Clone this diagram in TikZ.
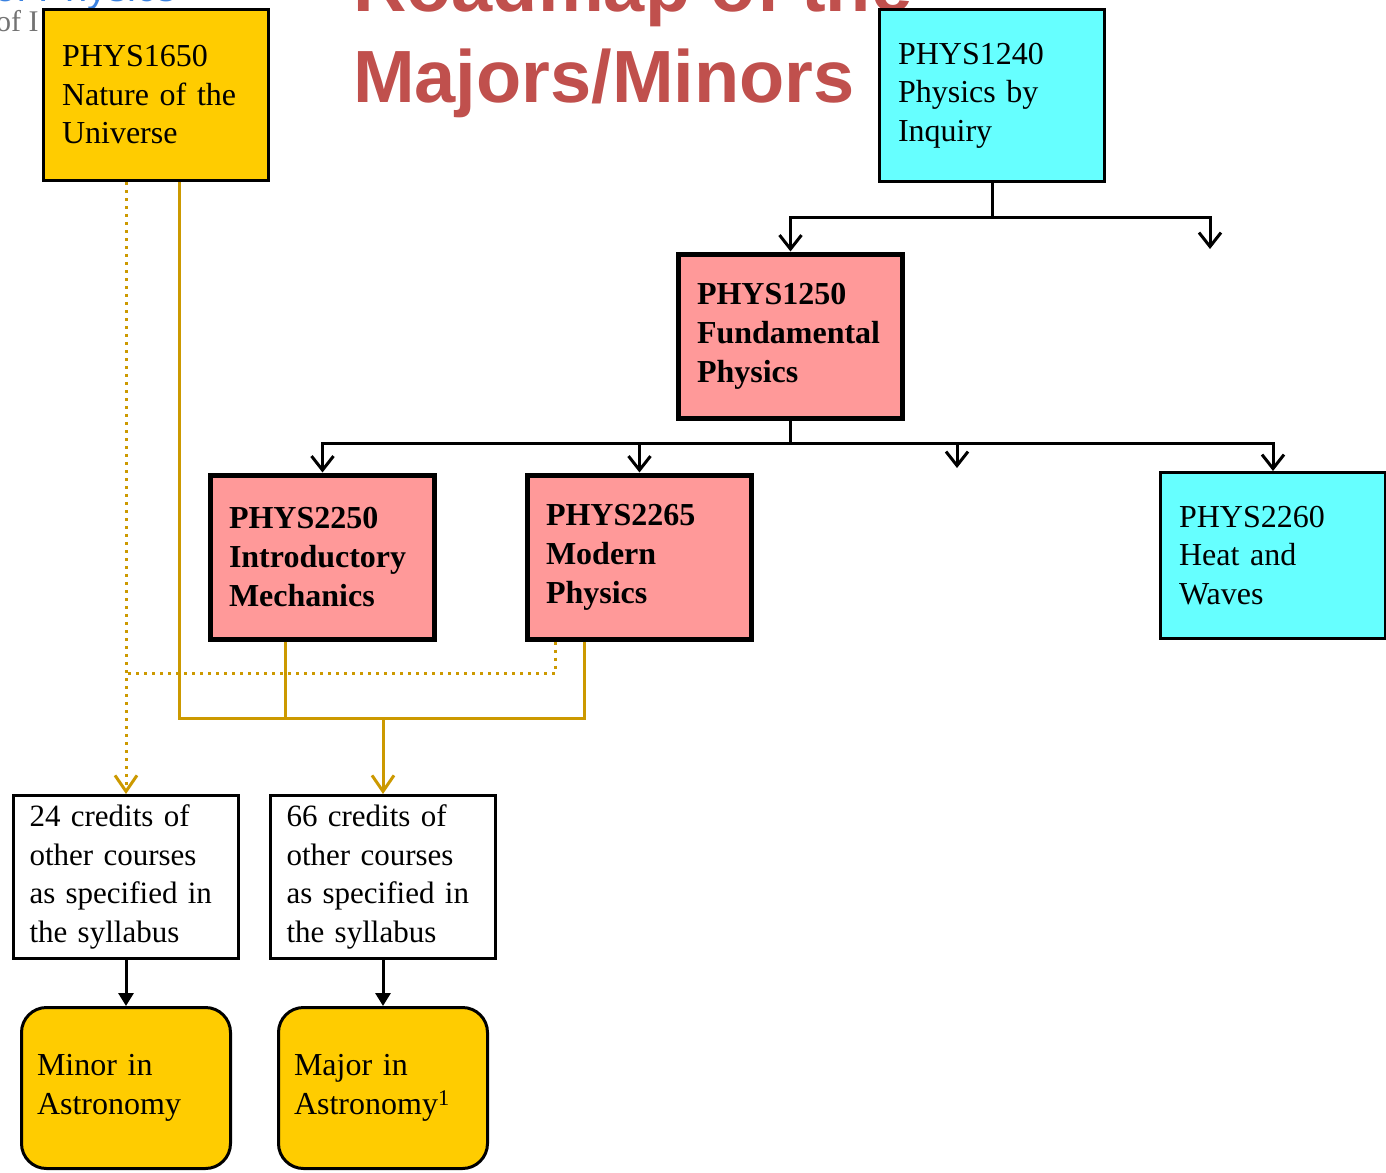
\documentclass[tikz,border=0pt]{standalone}
\usepackage{fontspec}
\setmainfont{Liberation Serif}
\newfontfamily\titlefont{Liberation Sans}
\usepackage{xcolor}
\usetikzlibrary{arrows.meta,positioning}

\definecolor{gold}{HTML}{FFCC00}
\definecolor{aqua}{HTML}{66FFFF}
\definecolor{salmon}{HTML}{FF9999}
\definecolor{titlered}{HTML}{C0504D}
\definecolor{ochre}{HTML}{CC9900}
\definecolor{linkblue}{HTML}{3B82E0}

\begin{document}
\begin{tikzpicture}[
  x=1pt, y=-1pt,
  font=\fontsize{32}{38.5}\selectfont,
  course/.style={rectangle, draw, line width=3pt, minimum width=225pt,
                 minimum height=171pt, inner xsep=18.5pt, text width=188pt,
                 align=left},
  intro/.style={course, fill=gold},
  elective/.style={course, fill=aqua},
  core/.style={course, fill=salmon, line width=5pt, minimum width=224pt,
               minimum height=164pt, text width=187pt,
               font=\fontsize{32}{39}\selectfont\bfseries},
  credits/.style={course, fill=white, minimum height=163pt, inner xsep=16pt,
                  text width=193pt, font=\fontsize{31}{38.5}\selectfont},
  degree/.style={course, fill=gold, rounded corners=25pt, minimum width=209pt,
                 minimum height=161pt, inner xsep=15.5pt, text width=178pt},
  link/.style={line width=3pt},
  arrow/.style={link, -{Straight Barb[length=14pt,width=22pt]}},
  solidarrow/.style={link, -{Triangle[length=13pt,width=15pt]}},
  req/.style={line width=3pt, draw=ochre},
  reqarrow/.style={req, -{Straight Barb[length=16pt,width=22pt]}},
  opt/.style={req, dash pattern=on 3pt off 5pt},
  optarrow/.style={opt, -{Straight Barb[length=16pt,width=22pt]}},
]
  \useasboundingbox (0,0) rectangle (1386,1172);

  % cut-off header
  \node[anchor=base west, inner sep=0, text=linkblue,
        font=\titlefont\fontsize{40}{40}\selectfont] (dept) at (-6,2) {of Physics};
  \node[anchor=base west, inner sep=0, text=black!55,
        font=\fontsize{30}{36}\selectfont] (uni) at (-4,32) {of I};
  \node[anchor=base west, inner sep=0, text=titlered, align=left,
        font=\titlefont\bfseries\fontsize{74}{90}\selectfont] (title)
    at (353,102) {Roadmap of the\\Majors/Minors};

  % courses
  \node[intro] (p1650) at (156,95) {PHYS1650\\Nature of the\\Universe};
  \node[elective] (p1240) at (992,95.5) {PHYS1240\\Physics by\\Inquiry};
  \node[core] (p1250) at (790.5,336) {PHYS1250\\Fundamental\\Physics};
  \node[core] (p2250) at (322.5,557) {PHYS2250\\Introductory\\Mechanics};
  \node[core] (p2265) at (639.5,557) {PHYS2265\\Modern\\Physics};
  \node[elective, minimum height=166pt] (p2260) at (1273,555.5)
    {PHYS2260\\Heat and\\Waves};

  \node[credits] (credA) at (126,877)
    {24 credits of\\other courses\\as specified in\\the syllabus};
  \node[credits] (credB) at (383,877)
    {66 credits of\\other courses\\as specified in\\the syllabus};
  \node[degree, below=46pt of credA] (minor) {Minor in\\Astronomy};
  \node[degree, below=46pt of credB] (major) {Major in\\Astronomy\textsuperscript{1}};

  % black tree
  \coordinate (fork1) at (992,217);
  \coordinate (free1) at (1210,249);
  \coordinate (fork2) at (790.5,443);
  \coordinate (free2) at (957,468);
  \draw[link] (p1240) -- (fork1);
  \draw[arrow] (fork1) -| (p1250);
  \draw[arrow] (fork1) -| (free1);
  \draw[link] (p1250) -- (fork2);
  \foreach \t in {p2250,p2265,free2,p2260}
    \draw[arrow] (fork2) -| (\t);

  % requirements
  \coordinate (g1) at (179,718);
  \coordinate (g2) at (285,718);
  \coordinate (g3) at (584,718);
  \coordinate (d1) at (555,673);
  \draw[req] (p1650.south -| g1) -- (g1) -- (g3) -- (p2265.south -| g3);
  \draw[req] (p2250.south -| g2) -- (g2);
  \draw[reqarrow] (credB |- g1) -- (credB);
  \draw[opt] (p2265.south -| d1) -- (d1) -- (d1 -| credA);
  \draw[optarrow] (p1650.south -| credA) -- (credA);

  \draw[solidarrow] (credA) -- (minor);
  \draw[solidarrow] (credB) -- (major);
\end{tikzpicture}
\end{document}
